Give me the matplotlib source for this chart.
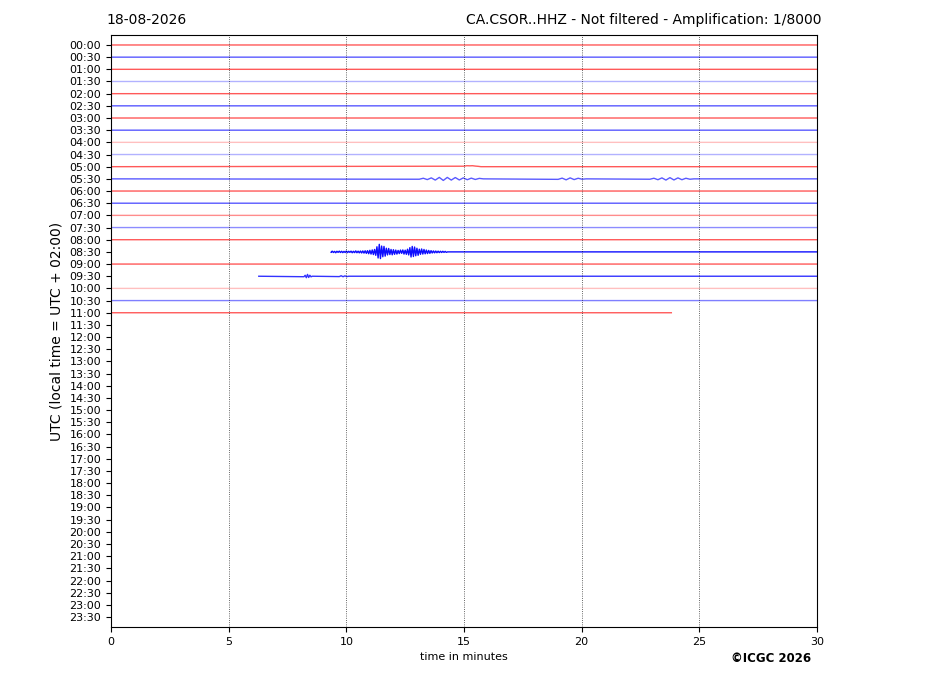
import numpy as np
import matplotlib
matplotlib.use('Agg')
import matplotlib.pyplot as plt

# helicorder rows: one trace every 30 min, only the first 23 have data
row_labels = ['%02d:%02d' % (h, m) for h in range(24) for m in (0, 30)]
n_traces = 23
trace_start = {17: 9.35, 19: 6.25}     # gaps at the start of a row (minutes)
trace_end = {22: 23.84}                  # last row stops here

# event on the 08:30 row, one value every 0.05 min from 9.35 min (row units)
event_t0 = 9.35
event_dt = 0.05
event_amp = [0.04, -0.06, 0.05, -0.04, 0.07, -0.05, 0.04, -0.06, 0.05, -0.05,
             0.06, -0.04, 0.05, -0.07, 0.06, -0.05, 0.04, -0.06, 0.07, -0.05,
             0.06, -0.08, 0.07, -0.06, 0.08, -0.07, 0.09, -0.08, 0.1, -0.09,
             0.12, -0.1, 0.15, -0.13, 0.18, -0.16, 0.22, -0.2, 0.28,
             -0.42, 0.5, -0.62, 0.55, -0.48, 0.4, -0.45, 0.35,
             -0.3, 0.25, -0.28, 0.22, -0.2, 0.24, -0.18, 0.2, -0.15, 0.18,
             -0.12, 0.14, -0.15, 0.12, -0.16, 0.18, -0.14, 0.2, -0.22, 0.25,
             -0.35, 0.42, -0.45, 0.38, -0.4, 0.32, -0.3, 0.28,
             -0.22, 0.2, -0.24, 0.18, -0.2, 0.16, -0.15, 0.14, -0.12, 0.12,
             -0.1, 0.09, -0.08, 0.08, -0.07, 0.07, -0.06, 0.06, -0.05, 0.05,
             -0.05, 0.04, -0.04, 0.04]

# smaller wiggles: (row, start minute, step, values)
wiggles = [
    (11, 13.1, 0.17, [0.03, -0.05, 0.06, -0.08, 0.1, -0.12, 0.13, -0.12,
                      0.1, -0.11, 0.09, -0.08, 0.07, -0.06, 0.05, -0.04]),
    (11, 19.0, 0.17, [0.04, -0.06, 0.08, -0.08, 0.06, -0.05, 0.03]),
    (11, 22.9, 0.17, [0.03, -0.05, 0.07, -0.08, 0.1, -0.1, 0.09, -0.08,
                      0.07, -0.05, 0.03]),
    (10, 15.0, 0.12, [-0.04, -0.08, -0.07, -0.08, -0.05, -0.03]),
    (19, 8.2, 0.05, [0.04, -0.08, 0.12, -0.15, 0.1, -0.08, 0.05]),
    (19, 9.7, 0.08, [0.03, -0.04, 0.04, -0.03, 0.03]),
    (17, event_t0, event_dt, event_amp),
]

row_alpha = {3: 0.3, 8: 0.25, 9: 0.3, 14: 0.45, 15: 0.45, 17: 0.95,
             19: 0.8, 20: 0.25, 21: 0.5}


def build_trace(row):
    t0 = trace_start.get(row, 0.0)
    t1 = trace_end.get(row, 30.0)
    pieces = []
    for r, s, step, vals in wiggles:
        if r == row:
            pieces.append((s, step, vals))
    pieces.sort()
    ts, ys = [t0], [0.0]
    for s, step, vals in pieces:
        tt = s + step * np.arange(len(vals))
        ts.extend(tt)
        ys.extend(vals)
        ts.append(tt[-1] + step)
        ys.append(0.0)
    ts.append(t1)
    ys.append(0.0)
    return np.array(ts), np.array(ys)


fig = plt.figure(figsize=(9.27, 6.96), dpi=100)
ax = fig.add_axes([111 / 927, 1 - 627 / 696, 706 / 927, 592 / 696])

for row in range(n_traces):
    t, y = build_trace(row)
    col = '#ff0000' if row % 2 == 0 else '#0000ff'
    ax.plot(t, row + y, color=col, lw=1.0, alpha=row_alpha.get(row, 0.65),
            solid_capstyle='butt', snap=False)

ax.set_xlim(0, 30)
ax.set_ylim(47.82, -0.82)
ax.set_xticks(range(0, 31, 5))
ax.set_yticks(range(len(row_labels)))
ax.set_yticklabels(row_labels)
ax.tick_params(axis='both', labelsize=8)
for xv in range(5, 30, 5):
    ax.axvline(xv, color='black', ls=':', lw=0.6, alpha=0.8)

ax.set_xlabel('time in minutes', fontsize=8)
ax.set_ylabel('UTC (local time = UTC + 02:00)', fontsize=10)

fig.text(106 / 927, 1 - 20 / 696, '18-08-2026', fontsize=10, va='center', ha='left')
fig.text(821 / 927, 1 - 20 / 696, 'CA.CSOR..HHZ - Not filtered - Amplification: 1/8000',
         fontsize=10, va='center', ha='right')
fig.text(811 / 927, 1 - 658 / 696, '\u00a9ICGC 2026', fontsize=8.5, fontweight='bold',
         va='center', ha='right')

fig.savefig('out.png', dpi=100)
